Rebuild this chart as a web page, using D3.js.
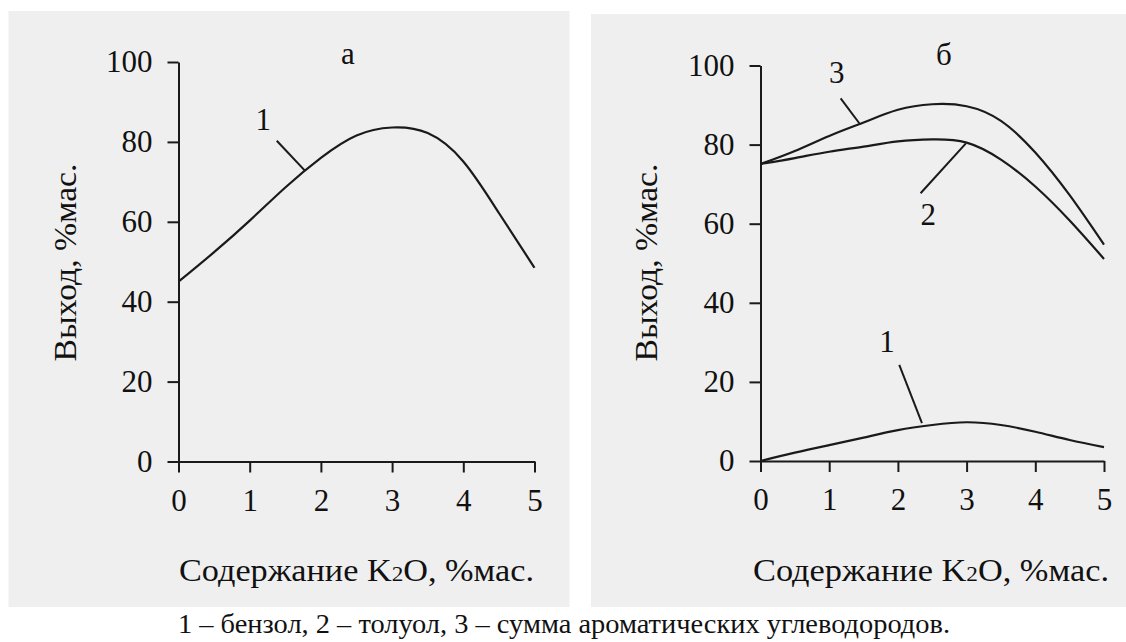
<!DOCTYPE html>
<html>
<head>
<meta charset="utf-8">
<script src="https://cdn.jsdelivr.net/npm/d3@7"></script>
<style>
  body { margin: 0; background: #fff; }
  svg text { font-family: "Liberation Serif", "Times New Roman", serif; fill: #111; }
  .axis path, .axis line { stroke: #1a1a1a; stroke-width: 2px; }
  .axis text { font-size: 31px; font-family: "Liberation Serif", serif; fill: #111; }
</style>
</head>
<body>
<div id="chart"></div>
<script>
// K2O content, %mass
var xValues = [0, 0.5, 1, 1.5, 2, 2.5, 3, 3.5, 4, 4.5, 5];
// panel a: curve 1
var aBenzene = [45, 52.4, 60.3, 68.6, 76.0, 81.6, 83.6, 82.2, 75.1, 62.2, 48.5];
// panel b: curves 1, 2, 3
var bBenzene = [0, 2.1, 4.0, 5.9, 7.8, 9.1, 9.8, 9.1, 7.4, 5.3, 3.5];
var bToluene = [75.1, 76.6, 78.2, 79.5, 80.8, 81.3, 80.5, 76.2, 69.4, 60.8, 51.1];
var bSum = [75.1, 78.4, 82.2, 85.6, 88.8, 90.2, 89.7, 86.0, 78.0, 67.2, 54.7];

var xTicks = [0, 1, 2, 3, 4, 5];
var yTicks = [0, 20, 40, 60, 80, 100];
var yTitle = "Выход, %мас.";
var caption = "1 – бензол, 2 – толуол, 3 – сумма ароматических углеводородов.";

// curve labels with leader lines, in data units: [label, labelX, labelY, fromX, fromY, toX, toY]
var aLabels = [["1", 1.19, 83, 1.38, 80.3, 1.775, 72.8]];
var bLabels = [
  ["3", 1.11, 95.6, 1.167, 91.7, 1.438, 85.4],
  ["2", 2.44, 59.7, 2.33, 67.7, 2.99, 80.3],
  ["1", 1.84, 27.6, 2.02, 24.3, 2.35, 9.6]
];

var svg = d3.select("div#chart")
  .append("svg")
  .attr("width", 1126)
  .attr("height", 642);

function drawPanel(opt) {
  var g = svg.append("g");

  g.append("rect")
    .attr("x", opt.bg[0]).attr("y", opt.bg[1])
    .attr("width", opt.bg[2]).attr("height", opt.bg[3])
    .style("fill", "#efefef");

  var x = d3.scaleLinear().domain([0, 5]).range(opt.xr);
  var y = d3.scaleLinear().domain([0, 100]).range(opt.yr);

  g.append("g")
    .attr("class", "axis")
    .attr("transform", "translate(0," + opt.yr[0] + ")")
    .call(d3.axisBottom(x).tickValues(xTicks).tickFormat(d3.format("d"))
      .tickSize(11).tickSizeOuter(0).tickPadding(16));

  g.append("g")
    .attr("class", "axis")
    .attr("transform", "translate(" + opt.xr[0] + ",0)")
    .call(d3.axisLeft(y).tickValues(yTicks).tickFormat(d3.format("d"))
      .tickSize(11).tickSizeOuter(0).tickPadding(15));

  g.selectAll(".axis text")
    .attr("font-size", 31)
    .style("font-family", "Liberation Serif");

  var line = d3.line()
    .curve(d3.curveNatural)
    .x(function (d, i) { return x(xValues[i]); })
    .y(function (d) { return y(d); });

  opt.series.forEach(function (s) {
    g.append("path")
      .datum(s)
      .attr("d", line)
      .style("fill", "none")
      .style("stroke", "#1a1a1a")
      .style("stroke-width", "2.2px");
  });

  opt.labels.forEach(function (l) {
    g.append("line")
      .attr("x1", x(l[3])).attr("y1", y(l[4]))
      .attr("x2", x(l[5])).attr("y2", y(l[6]))
      .style("stroke", "#1a1a1a")
      .style("stroke-width", "2px");
    g.append("text")
      .attr("x", x(l[1])).attr("y", y(l[2]))
      .attr("text-anchor", "middle")
      .attr("font-size", 31)
      .text(l[0]);
  });

  // panel letter
  g.append("text")
    .attr("x", x(opt.title[1])).attr("y", y(opt.title[2]))
    .attr("text-anchor", "middle")
    .attr("font-size", 31)
    .text(opt.title[0]);

  // y title
  g.append("text")
    .attr("transform", "translate(" + opt.yTitleX + "," + 262.5 + ") rotate(-90)")
    .attr("text-anchor", "middle")
    .attr("dominant-baseline", "central")
    .attr("font-size", 31)
    .attr("textLength", 198)
    .attr("lengthAdjust", "spacingAndGlyphs")
    .text(yTitle);

  // x title
  var xt = g.append("text")
    .attr("x", opt.xTitle[0]).attr("y", 581)
    .attr("font-size", 31)
    .attr("textLength", opt.xTitle[1])
    .attr("lengthAdjust", "spacingAndGlyphs");
  xt.append("tspan").text("Содержание K");
  xt.append("tspan").attr("font-size", 21).text("2");
  xt.append("tspan").text("O, %мас.");
}

drawPanel({
  bg: [8.5, 11, 561, 596],
  xr: [178.5, 534.5],
  yr: [461.5, 62],
  series: [aBenzene],
  labels: aLabels,
  title: ["а", 2.38, 99.6],
  yTitleX: 65,
  xTitle: [179, 355]
});

drawPanel({
  bg: [591, 14, 535, 593],
  xr: [760.5, 1104],
  yr: [461, 65.5],
  series: [bBenzene, bToluene, bSum],
  labels: bLabels,
  title: ["б", 2.67, 100.1],
  yTitleX: 646,
  xTitle: [753, 356]
});

svg.append("text")
  .attr("x", 178).attr("y", 633)
  .attr("font-size", 27)
  .attr("textLength", 772)
  .attr("lengthAdjust", "spacingAndGlyphs")
  .text(caption);
</script>
</body>
</html>
